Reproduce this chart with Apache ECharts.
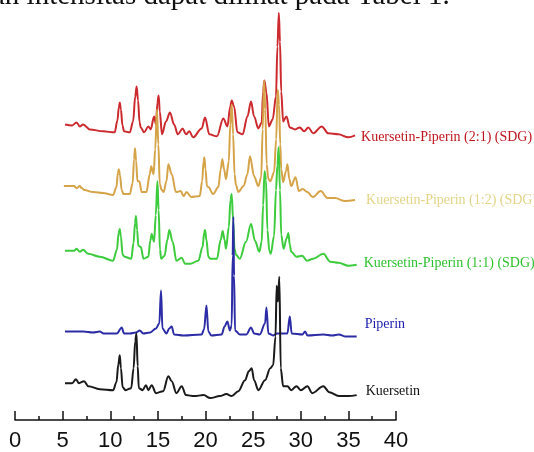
<!DOCTYPE html>
<html>
<head>
<meta charset="utf-8">
<script src="https://cdn.jsdelivr.net/npm/echarts@6/dist/echarts.min.js"></script>
<style>html,body{margin:0;padding:0;background:#fff}#c{width:534px;height:452px}</style>
</head>
<body>
<div id="c"></div>
<script>
// 2θ ticks
const xTicks = [0, 5, 10, 15, 20, 25, 30, 35, 40];
const seriesNames = ['Kuersetin-Piperin (2:1) (SDG)', 'Kuersetin-Piperin (1:2) (SDG)', 'Kuersetin-Piperin (1:1) (SDG)', 'Piperin', 'Kuersetin'];

// [2θ, relative intensity]
const kp21 = [[5.25,12],[6.0,11],[6.47,14],[6.8,10],[7.15,12],[7.85,7],[9.25,5],[10.47,4],[10.75,16],[10.9,29],[11.0,34],[11.12,27],[11.28,11],[11.45,5],[12.05,4],[12.4,15],[12.62,40],[12.77,50],[12.92,36],[13.08,14],[13.2,9],[13.55,4],[14.0,10],[14.25,7],[14.6,20],[14.8,12],[14.95,34],[15.08,41],[15.2,25],[15.43,2],[15.85,15],[16.27,24],[16.7,12],[17.1,2],[17.6,8],[17.95,2],[18.3,5],[18.7,-1],[19.6,8],[19.95,19],[20.4,2],[21.2,0],[21.87,18],[22.3,10],[22.6,30],[22.75,36],[23.0,30],[23.35,4],[23.9,2],[24.4,20],[24.78,35],[25.1,20],[25.55,8],[25.9,14],[26.05,45],[26.18,56],[26.4,44],[26.65,10],[27.05,17],[27.4,40],[27.55,90],[27.7,124],[27.82,95],[27.95,45],[28.15,15],[28.5,20],[28.85,9],[29.4,7],[29.9,9],[30.35,5],[30.8,9],[31.3,3],[32.2,10],[32.9,3],[33.95,2],[35.0,-1],[35.7,1]];
const kp12 = [[5.13,13],[6.2,13],[6.47,11],[6.8,13],[7.0,11],[7.3,9],[8.2,7],[9.25,6],[10.3,4],[10.65,12],[10.8,26],[10.9,30],[11.02,24],[11.2,9],[11.4,5],[12.05,5],[12.35,16],[12.5,40],[12.6,51],[12.72,38],[12.85,18],[13.05,18],[13.3,7],[13.8,7],[14.15,25],[14.3,33],[14.55,25],[14.72,50],[14.9,90],[15.05,55],[15.2,15],[15.4,9],[15.6,7],[15.9,18],[16.1,35],[16.45,25],[16.9,7],[17.4,8],[17.7,3],[18.0,7],[18.5,2],[19.4,3],[19.65,18],[19.8,38],[19.88,42],[20.0,30],[20.15,13],[20.3,12],[20.8,5],[21.35,12],[21.6,30],[21.77,40],[21.95,30],[22.15,20],[22.45,38],[22.6,75],[22.75,95],[22.9,65],[23.05,25],[23.2,14],[23.45,7],[24.0,13],[24.4,25],[24.67,43],[25.1,23],[25.55,13],[25.85,22],[26.0,70],[26.15,119],[26.28,90],[26.42,35],[26.6,20],[26.8,18],[27.2,27],[27.42,60],[27.58,110],[27.72,95],[27.85,55],[27.95,30],[28.15,17],[28.45,28],[28.6,35],[28.8,20],[29.0,13],[29.45,22],[29.8,8],[30.2,10],[30.7,7],[31.25,2],[32.1,8],[32.8,1],[33.6,1],[34.65,-2],[35.7,-1]];
const kp11 = [[5.25,14],[6.2,14],[6.47,16],[6.8,13],[7.15,15],[7.7,11],[8.9,8],[10.3,4],[10.7,15],[10.88,32],[11.0,36],[11.12,28],[11.3,10],[11.5,8],[12.2,6],[12.45,22],[12.6,42],[12.7,49],[12.82,35],[12.95,19],[13.2,18],[13.5,6],[14.0,8],[14.2,24],[14.35,31],[14.6,23],[14.78,50],[14.95,84],[15.08,55],[15.22,15],[15.35,6],[15.7,9],[16.0,25],[16.2,35],[16.55,23],[16.95,4],[17.5,7],[17.85,1],[18.4,1],[19.25,4],[19.7,18],[19.85,32],[19.95,35],[20.1,25],[20.3,8],[20.5,6],[21.2,6],[21.6,25],[21.8,34],[22.0,25],[22.15,16],[22.45,38],[22.62,65],[22.75,71],[22.9,45],[23.05,16],[23.2,10],[23.6,6],[24.25,23],[24.78,41],[25.2,24],[25.65,13],[25.9,23],[26.05,60],[26.2,94],[26.35,85],[26.5,35],[26.7,14],[26.85,11],[27.2,29],[27.4,75],[27.55,100],[27.68,118],[27.82,75],[27.95,30],[28.2,16],[28.5,26],[28.7,32],[28.85,20],[29.0,13],[29.55,8],[30.15,9],[30.65,4],[31.3,6],[32.37,11],[33.1,3],[33.95,2],[35.0,-1],[35.87,0]];
const piperin = [[5.25,4],[7.15,4],[8.2,3],[8.9,4],[9.3,2],[10.7,2],[11.2,8],[11.45,2],[12.05,2],[12.7,3],[13.1,5],[13.45,2],[14.2,3],[14.8,7],[15.15,12],[15.33,45],[15.48,7],[15.9,2],[16.2,7],[16.45,9],[16.7,1],[17.7,0],[19.6,1],[19.85,6],[20.1,30],[20.3,4],[20.6,0],[21.7,1],[22.0,9],[22.3,14],[22.55,5],[22.75,10],[22.85,80],[22.92,119],[23.0,60],[23.1,5],[23.6,1],[24.3,1],[24.78,8],[25.1,2],[25.7,1],[26.25,12],[26.4,28],[26.6,2],[27.1,0],[27.5,2],[28.2,2],[28.6,2],[28.85,19],[29.05,2],[30.2,1],[30.45,4],[30.7,0],[32.37,1],[33.3,0],[34.0,1],[34.65,-1],[35.87,-1]];
const kuersetin = [[5.25,13],[6.0,13],[6.4,17],[6.7,13],[7.25,15],[7.7,10],[8.9,7],[10.3,6],[10.65,14],[10.85,32],[11.0,41],[11.12,28],[11.3,9],[11.6,6],[12.2,8],[12.45,28],[12.62,55],[12.75,63],[12.88,30],[13.0,8],[13.4,6],[13.75,11],[14.0,6],[14.35,11],[14.8,3],[15.55,5],[16.1,20],[16.45,15],[16.95,3],[17.5,10],[17.95,1],[18.8,0],[19.8,1],[20.5,-2],[21.5,0],[22.2,2],[22.75,0],[23.45,5],[24.15,16],[24.55,25],[24.85,28],[25.1,16],[25.55,6],[26.25,16],[26.8,28],[27.1,31],[27.35,60],[27.47,111],[27.6,95],[27.75,120],[27.9,28],[28.15,10],[28.6,10],[29.0,6],[29.55,10],[30.0,6],[30.7,10],[31.2,3],[32.37,10],[33.0,4],[34.0,0],[35.0,0],[35.87,1]];

const dataSets = [kp21, kp12, kp11, piperin, kuersetin];
const offsets = [285, 222, 156, 85, 24];
const lineColors = ['#cc2a2e', '#d6a448', '#3dcc3d', '#2c2ca6', '#1a1a1a'];
const labelColors = ['#c0161e', '#e2d488', '#2fc22f', '#1c1cb0', '#111111'];
const labelDist = [6, 11, 7, 8, 9];
const labelDy = [2, 0, -1, -12, -4];

const chart = echarts.init(document.getElementById('c'), null, {renderer: 'canvas'});
chart.setOption({
  animation: false,
  backgroundColor: '#fff',
  graphic: [{
    type: 'text', left: -8, top: -18,
    style: {text: 'an intensitas dapat dilihat pada Tabel 1.', font: '29px "Liberation Serif"', fill: '#111'}
  }],
  grid: {left: 15, right: 138, top: 0, bottom: 30},
  xAxis: {
    type: 'value', min: 0, max: 40, interval: 5,
    axisLine: {show: true, lineStyle: {color: '#111', width: 1.5}},
    axisTick: {show: true, inside: true, length: 9, lineStyle: {color: '#111', width: 1.5}},
    minorTick: {show: true, splitNumber: 2, length: 4, lineStyle: {color: '#111', width: 1.5}},
    splitLine: {show: false},
    axisLabel: {
      margin: 10, fontSize: 22, color: '#111', fontFamily: 'Liberation Sans',
      formatter: v => xTicks.includes(v) ? String(v) : ''
    }
  },
  yAxis: {type: 'value', min: 0, max: 422, show: false},
  series: dataSets.map((d, i) => ({
    type: 'line', name: seriesNames[i],
    data: d.map(p => [p[0], p[1] + offsets[i]]),
    showSymbol: false, smooth: 0.35, smoothMonotone: 'x',
    lineStyle: {color: lineColors[i], width: 2},
    endLabel: {
      show: true, formatter: seriesNames[i], distance: labelDist[i], offset: [0, labelDy[i]],
      color: labelColors[i], fontFamily: 'Liberation Serif', fontSize: 14
    },
    z: 2 + i
  }))
});
</script>
</body>
</html>
